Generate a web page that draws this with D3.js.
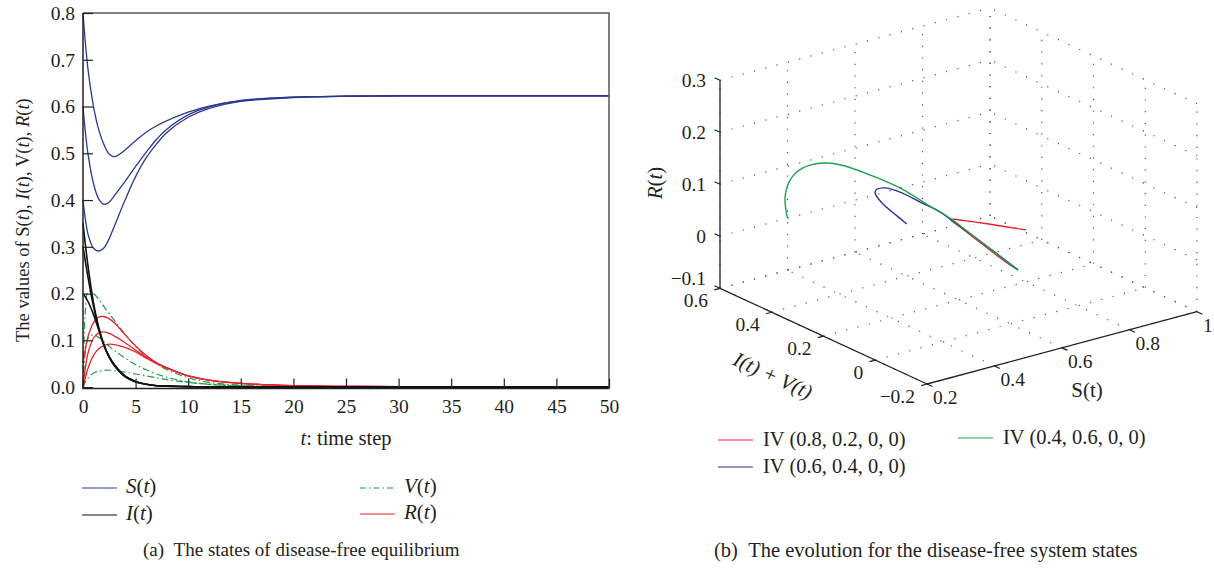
<!DOCTYPE html>
<html>
<head>
  <script src="https://d3js.org/d3.v7.min.js"></script>
  <style>
    body { margin: 0; background: #fff; }
    svg { font-family: "Liberation Serif", "DejaVu Serif", serif; fill: #231f20; }
    .tick-label { font-size: 19.5px; }
    .grid3d { stroke: #555; stroke-width: 1.2; stroke-dasharray: 1.2 10.5; fill: none; }
    .it { font-style: italic; }
  </style>
</head>
<body>
  <svg id="fig" width="1214" height="569"></svg>
  <script>
    // ---- panel (a) data: time steps and the four state series (three runs each)
    const tSteps = [0, 0.25, 0.5, 1, 1.5, 2, 2.5, 3, 4, 5, 6, 7, 8, 10, 12, 15, 20, 25, 30, 40, 50];

    const sRuns = [
      [0.8, 0.73, 0.675, 0.6, 0.55, 0.518, 0.498, 0.493, 0.507, 0.527, 0.545, 0.559, 0.57, 0.588, 0.601, 0.612, 0.62, 0.622, 0.623, 0.623, 0.623],
      [0.6, 0.54, 0.495, 0.435, 0.402, 0.391, 0.396, 0.41, 0.44, 0.472, 0.502, 0.53, 0.552, 0.582, 0.599, 0.613, 0.62, 0.622, 0.623, 0.623, 0.623],
      [0.4, 0.355, 0.325, 0.297, 0.291, 0.298, 0.318, 0.345, 0.4, 0.45, 0.49, 0.52, 0.545, 0.577, 0.596, 0.611, 0.619, 0.622, 0.623, 0.623, 0.623]
    ];
    const iRuns = [
      [0.35, 0.3, 0.255, 0.18, 0.127, 0.09, 0.065, 0.047, 0.024, 0.012, 0.006, 0.003, 0.002, 0.001, 0, 0, 0, 0, 0, 0, 0],
      [0.3, 0.265, 0.232, 0.172, 0.125, 0.089, 0.064, 0.046, 0.023, 0.012, 0.006, 0.003, 0.002, 0.001, 0, 0, 0, 0, 0, 0, 0],
      [0.2, 0.192, 0.182, 0.155, 0.122, 0.088, 0.063, 0.045, 0.022, 0.011, 0.006, 0.003, 0.002, 0.001, 0, 0, 0, 0, 0, 0, 0]
    ];
    const vRuns = [
      [0, 0.17, 0.204, 0.2, 0.188, 0.172, 0.157, 0.142, 0.113, 0.087, 0.066, 0.05, 0.037, 0.02, 0.01, 0.004, 0.001, 0, 0, 0, 0],
      [0, 0.08, 0.105, 0.112, 0.106, 0.097, 0.087, 0.078, 0.062, 0.048, 0.037, 0.028, 0.021, 0.011, 0.006, 0.002, 0, 0, 0, 0, 0],
      [0, 0.012, 0.02, 0.03, 0.034, 0.036, 0.036, 0.035, 0.032, 0.028, 0.024, 0.02, 0.016, 0.01, 0.006, 0.003, 0.001, 0, 0, 0, 0]
    ];
    const rRuns = [
      [0.05, 0.085, 0.11, 0.138, 0.15, 0.151, 0.146, 0.137, 0.112, 0.088, 0.068, 0.052, 0.041, 0.024, 0.015, 0.008, 0.003, 0.0015, 0.001, 0.001, 0.001],
      [0, 0.045, 0.075, 0.105, 0.116, 0.118, 0.115, 0.109, 0.095, 0.079, 0.064, 0.051, 0.041, 0.024, 0.015, 0.008, 0.003, 0.0015, 0.001, 0.001, 0.001],
      [0, 0.022, 0.042, 0.068, 0.082, 0.089, 0.092, 0.091, 0.085, 0.075, 0.062, 0.05, 0.04, 0.024, 0.015, 0.008, 0.003, 0.0015, 0.001, 0.001, 0.001]
    ];
    const tTicks = [0, 5, 10, 15, 20, 25, 30, 35, 40, 45, 50];
    const yTicks = [0, 0.1, 0.2, 0.3, 0.4, 0.5, 0.6, 0.7, 0.8];

    // ---- panel (b) data: trajectories in (S, I+V, R)
    const trajNames = ["IV (0.8, 0.2, 0, 0)", "IV (0.6, 0.4, 0, 0)", "IV (0.4, 0.6, 0, 0)"];
    const trajS = [
      [0.8, 0.65, 0.55, 0.49, 0.505, 0.532, 0.562, 0.593, 0.623],
      [0.6, 0.5, 0.43, 0.395, 0.392, 0.4, 0.43, 0.48, 0.52, 0.55, 0.575, 0.6, 0.623],
      [0.4, 0.316, 0.29, 0.3, 0.32, 0.35, 0.38, 0.42, 0.47, 0.52, 0.55, 0.575, 0.6, 0.623]
    ];
    const trajIV = [
      [0.2, 0.143, 0.11, 0.086, 0.07, 0.048, 0.028, 0.011, 0],
      [0.4, 0.315, 0.274, 0.255, 0.244, 0.223, 0.204, 0.192, 0.167, 0.164, 0.123, 0.059, 0],
      [0.6, 0.5, 0.455, 0.433, 0.409, 0.382, 0.352, 0.307, 0.257, 0.206, 0.164, 0.123, 0.059, 0]
    ];
    const trajR = [
      [0, 0.05, 0.082, 0.1, 0.087, 0.065, 0.042, 0.019, 0],
      [0, 0.056, 0.099, 0.129, 0.139, 0.145, 0.136, 0.111, 0.091, 0.071, 0.05, 0.024, 0],
      [0, 0.073, 0.117, 0.145, 0.16, 0.165, 0.161, 0.147, 0.125, 0.093, 0.073, 0.05, 0.024, 0]
    ];
    const sTicks3 = [0.2, 0.4, 0.6, 0.8, 1];
    const sLabels3 = ["0.2", "0.4", "0.6", "0.8", "1"];
    const ivTicks3 = [-0.2, 0, 0.2, 0.4, 0.6];
    const ivLabels3 = ["\u22120.2", "0", "0.2", "0.4", "0.6"];
    const rTicks3 = [-0.1, 0, 0.1, 0.2, 0.3];
    const rLabels3 = ["\u22120.1", "0", "0.1", "0.2", "0.3"];

    const colS = "#2b3990", colI = "#111", colV = "#1f9a4b", colR = "#e8232a";
    const trajColors = ["#e8232a", "#2e3192", "#1fa04f"];

    const svg = d3.select("#fig");

    // ================= panel (a) =================
    const x = d3.scaleLinear().domain([0, 50]).range([83, 609]);
    const y = d3.scaleLinear().domain([-0.003, 0.8]).range([388.5, 13]);

    const line = d3.line()
      .x((d, i) => x(tSteps[i]))
      .y(d => y(d))
      .curve(d3.curveCatmullRom.alpha(0.5));

    const plotA = svg.append("g");

    sRuns.forEach(r => plotA.append("path").attr("d", line(r))
      .attr("fill", "none").attr("stroke", colS).attr("stroke-width", 1.3));
    vRuns.forEach(r => plotA.append("path").attr("d", line(r))
      .attr("fill", "none").attr("stroke", colV).attr("stroke-width", 1.2)
      .attr("stroke-dasharray", "7 3 1.5 3"));
    rRuns.forEach(r => plotA.append("path").attr("d", line(r))
      .attr("fill", "none").attr("stroke", colR).attr("stroke-width", 1.3));
    iRuns.forEach(r => plotA.append("path").attr("d", line(r))
      .attr("fill", "none").attr("stroke", colI).attr("stroke-width", 1.6));

    // frame
    plotA.append("path")
      .attr("d", `M${x(0)},${y.range()[1]}H${x(50)}V${y.range()[0]}`)
      .attr("fill", "none").attr("stroke", "#555").attr("stroke-width", 1.5);
    plotA.append("path")
      .attr("d", `M${x(0)},${y.range()[1]}V${y.range()[0]}H${x(50)}`)
      .attr("fill", "none").attr("stroke", "#222").attr("stroke-width", 1.5);

    const xAxis = plotA.append("g")
      .attr("transform", `translate(0,${y.range()[0]})`)
      .call(d3.axisBottom(x).tickValues(tTicks).tickSize(-10).tickSizeOuter(0).tickPadding(11));
    const yAxis = plotA.append("g")
      .attr("transform", `translate(${x(0)},0)`)
      .call(d3.axisLeft(y).tickValues(yTicks).tickFormat(d3.format(".1f")).tickSize(-10).tickSizeOuter(0).tickPadding(8));
    [xAxis, yAxis].forEach(a => {
      a.select(".domain").remove();
      a.selectAll("line").attr("stroke", "#222").attr("stroke-width", 1.2);
      a.selectAll("text").attr("class", "tick-label")
        .attr("font-family", "Liberation Serif").attr("fill", "#231f20").attr("font-size", null);
    });

    // axis titles
    const xt = plotA.append("text").attr("x", 346).attr("y", 445)
      .attr("text-anchor", "middle").style("font-size", "20.5px");
    xt.append("tspan").attr("class", "it").text("t");
    xt.append("tspan").text(": time step");

    const yt = plotA.append("text")
      .attr("transform", "translate(29,342) rotate(-90)")
      .attr("text-anchor", "start").style("font-size", "18.5px");
    [["The values of S(", ""], ["t", "it"], ["), ", ""], ["I", "it"], ["(", ""], ["t", "it"], ["), V(", ""],
     ["t", "it"], ["), ", ""], ["R", "it"], ["(", ""], ["t", "it"], [")", ""]]
      .forEach(([s, c]) => yt.append("tspan").attr("class", c).text(s));

    // legend (a)
    const legA = [
      { sym: "S", col: colS, dash: null, lx: 82, ly: 488 },
      { sym: "I", col: colI, dash: null, lx: 82, ly: 515 },
      { sym: "V", col: colV, dash: "6 3 1.5 3", lx: 360, ly: 488 },
      { sym: "R", col: colR, dash: null, lx: 360, ly: 514 }
    ];
    legA.forEach(d => {
      svg.append("line").attr("x1", d.lx).attr("x2", d.lx + 35).attr("y1", d.ly).attr("y2", d.ly)
        .attr("stroke", d.col).attr("stroke-width", 1.2).attr("stroke-dasharray", d.dash);
      const t = svg.append("text").attr("x", d.lx + 44).attr("y", d.ly + 5).style("font-size", "21px");
      t.append("tspan").attr("class", "it").text(d.sym);
      t.append("tspan").text("(");
      t.append("tspan").attr("class", "it").text("t");
      t.append("tspan").text(")");
    });

    svg.append("text").attr("x", 143).attr("y", 556).style("font-size", "19px")
      .text("(a)\u2002The states of disease-free equilibrium");

    // ================= panel (b) =================
    const O = [927, 384], dS = [270, -72.3], dIV = [-207, -95.7], dR = [0, -208];
    const sN = d3.scaleLinear().domain([0.2, 1]).range([0, 1]);
    const ivN = d3.scaleLinear().domain([-0.2, 0.6]).range([0, 1]);
    const rN = d3.scaleLinear().domain([-0.1, 0.3]).range([0, 1]);
    function proj(s, iv, r) {
      const a = sN(s), b = ivN(iv), c = rN(r);
      return [O[0] + a * dS[0] + b * dIV[0] + c * dR[0], O[1] + a * dS[1] + b * dIV[1] + c * dR[1]];
    }
    const unit = v => { const l = Math.hypot(v[0], v[1]); return [v[0] / l, v[1] / l]; };

    const plotB = svg.append("g");

    // dotted grid on the three back planes
    const segs = [];
    sTicks3.forEach(s => { segs.push([[s, 0.6, -0.1], [s, 0.6, 0.3]]); segs.push([[s, -0.2, -0.1], [s, 0.6, -0.1]]); });
    rTicks3.forEach(r => { segs.push([[0.2, 0.6, r], [1, 0.6, r]]); segs.push([[1, -0.2, r], [1, 0.6, r]]); });
    ivTicks3.forEach(iv => { segs.push([[1, iv, -0.1], [1, iv, 0.3]]); segs.push([[0.2, iv, -0.1], [1, iv, -0.1]]); });
    segs.forEach(([p, q]) => {
      const a = proj(...p), b = proj(...q);
      plotB.append("line").attr("class", "grid3d")
        .attr("x1", a[0]).attr("y1", a[1]).attr("x2", b[0]).attr("y2", b[1]);
    });

    // axes
    const axisSegs = [
      [[0.2, 0.6, -0.1], [0.2, 0.6, 0.3]],
      [[0.2, 0.6, -0.1], [0.2, -0.2, -0.1]],
      [[0.2, -0.2, -0.1], [1, -0.2, -0.1]]
    ];
    axisSegs.forEach(([p, q]) => {
      const a = proj(...p), b = proj(...q);
      plotB.append("line").attr("x1", a[0]).attr("y1", a[1]).attr("x2", b[0]).attr("y2", b[1])
        .attr("stroke", "#222").attr("stroke-width", 1.3);
    });
    const tickLen = 6;
    const uIV = unit(dIV), uS = unit(dS);
    function tick(p, dir) {
      plotB.append("line").attr("x1", p[0]).attr("y1", p[1])
        .attr("x2", p[0] + dir[0] * tickLen).attr("y2", p[1] + dir[1] * tickLen)
        .attr("stroke", "#222").attr("stroke-width", 1.2);
    }
    rTicks3.forEach((r, i) => {
      const p = proj(0.2, 0.6, r);
      tick(p, uIV);
      plotB.append("text").attr("class", "tick-label").attr("text-anchor", "end")
        .attr("x", p[0] - 14).attr("y", p[1] + 7 - (i === 0 ? 10 : 0)).text(rLabels3[i]);
    });
    ivTicks3.forEach((iv, i) => {
      const p = proj(0.2, iv, -0.1);
      tick(p, [-uS[0], -uS[1]]);
      plotB.append("text").attr("class", "tick-label").attr("text-anchor", "end")
        .attr("x", p[0] - 12).attr("y", p[1] + 18.5).text(ivLabels3[i]);
    });
    sTicks3.forEach((s, i) => {
      const p = proj(s, -0.2, -0.1);
      tick(p, [-uIV[0], -uIV[1]]);
      plotB.append("text").attr("class", "tick-label").attr("text-anchor", "start")
        .attr("x", p[0] + 6).attr("y", p[1] + 20).text(sLabels3[i]);
    });

    // axis titles (b)
    const rt = plotB.append("text").attr("transform", "translate(662,183) rotate(-90)")
      .attr("text-anchor", "middle").style("font-size", "21px");
    rt.append("tspan").attr("class", "it").text("R");
    rt.append("tspan").text("(");
    rt.append("tspan").attr("class", "it").text("t");
    rt.append("tspan").text(")");

    const ang = Math.atan2(-dIV[1], -dIV[0]) * 180 / Math.PI;
    plotB.append("text").attr("class", "it")
      .attr("transform", `translate(770,382) rotate(${ang})`)
      .attr("text-anchor", "middle").style("font-size", "21px")
      .text("I(t) + V(t)");

    plotB.append("text").attr("x", 1087).attr("y", 397).attr("text-anchor", "middle")
      .style("font-size", "21px").text("S(t)");

    // trajectories
    const line3 = d3.line().curve(d3.curveCatmullRom);
    trajS.forEach((sArr, k) => {
      const pts = sArr.map((s, i) => proj(s, trajIV[k][i], trajR[k][i]));
      plotB.append("path").attr("d", line3(pts))
        .attr("fill", "none").attr("stroke", trajColors[k]).attr("stroke-width", 1.4);
    });

    // legend (b)
    const legB = [
      { lx: 718, ly: 440 },
      { lx: 718, ly: 467 },
      { lx: 958, ly: 438 }
    ];
    legB.forEach((d, k) => {
      svg.append("line").attr("x1", d.lx).attr("x2", d.lx + 35).attr("y1", d.ly).attr("y2", d.ly)
        .attr("stroke", trajColors[k]).attr("stroke-width", 1.2);
      svg.append("text").attr("x", d.lx + 45).attr("y", d.ly + 6).style("font-size", "20.5px")
        .text(trajNames[k]);
    });

    svg.append("text").attr("x", 714).attr("y", 557).style("font-size", "20.5px")
      .text("(b)\u2002The evolution for the disease-free system states");
  </script>
</body>
</html>
